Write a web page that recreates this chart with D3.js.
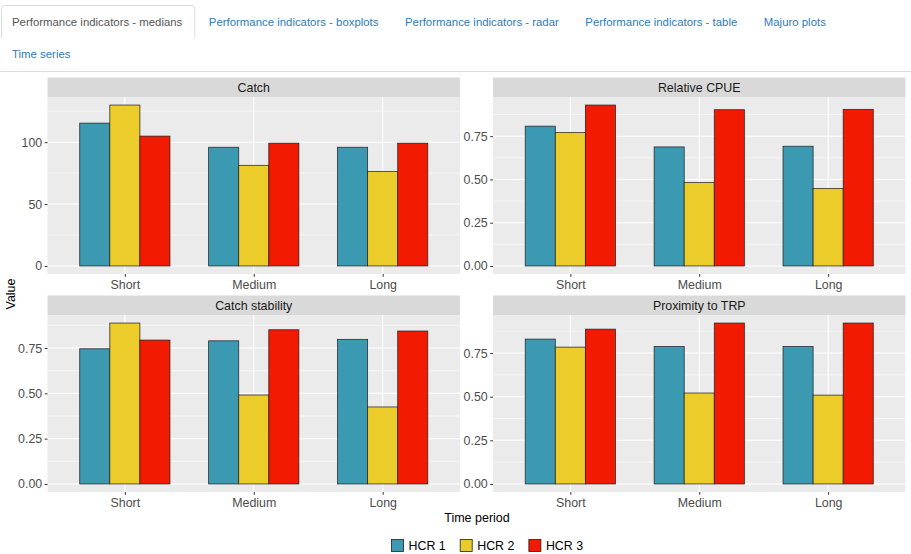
<!DOCTYPE html>
<html>
<head>
<meta charset="utf-8">
<script src="https://cdn.jsdelivr.net/npm/d3@7"></script>
<style>
  body { margin: 0; background: #fff; }
  svg { display: block; font-family: 'Liberation Sans', Arial, sans-serif; }
</style>
</head>
<body>
<svg width="911" height="554"></svg>
<script>
(function () {
    'use strict'

    // tabs along the top of the page
    const tabLabels = ['Performance indicators - medians', 'Performance indicators - boxplots',
        'Performance indicators - radar', 'Performance indicators - table', 'Majuro plots'];
    const tabLabels2 = ['Time series'];

    const periods = ['Short', 'Medium', 'Long'];
    const hcrs = ['HCR 1', 'HCR 2', 'HCR 3'];
    const hcrColours = ['#3B9AB2', '#EBCC2A', '#F21A00'];
    const indicators = ['Catch', 'Relative CPUE', 'Catch stability', 'Proximity to TRP'];

    // medians, rows = period (Short, Medium, Long), columns = HCR 1..3
    const catchValues = [[115.4, 130.0, 104.9], [95.9, 81.3, 99.2], [95.9, 76.4, 99.2]];
    const cpueValues = [[0.808, 0.771, 0.930], [0.688, 0.482, 0.903], [0.692, 0.448, 0.905]];
    const stabilityValues = [[0.746, 0.888, 0.794], [0.790, 0.491, 0.851], [0.798, 0.425, 0.844]];
    const proximityValues = [[0.830, 0.784, 0.887], [0.788, 0.521, 0.922], [0.788, 0.509, 0.922]];

    const catchTicks = [0, 50, 100];
    const catchTickLabels = ['0', '50', '100'];
    const ratioTicks = [0, 0.25, 0.5, 0.75];
    const ratioTickLabels = ['0.00', '0.25', '0.50', '0.75'];

    const facetValues = [catchValues, cpueValues, stabilityValues, proximityValues];
    const facetTicks = [catchTicks, ratioTicks, ratioTicks, ratioTicks];
    const facetTickLabels = [catchTickLabels, ratioTickLabels, ratioTickLabels, ratioTickLabels];

    let svg = d3.select('svg');

    // ---- tabs ----
    let tabs = svg.append('g').attr('font-size', '11.4px');
    tabs.append('line')
        .attr('x1', 0).attr('x2', 911).attr('y1', 71.5).attr('y2', 71.5)
        .attr('stroke', '#dddddd');

    let tx = 12;
    tabLabels.forEach(function (lab, i) {
        let t = tabs.append('text')
            .attr('x', tx).attr('y', 26)
            .attr('fill', i === 0 ? '#555555' : '#337ab7')
            .text(lab);
        let w = t.node().getComputedTextLength();
        if (i === 0) {
            tabs.insert('path', 'text')
                .attr('d', 'M1.5,38 V8.5 Q1.5,5.5 4.5,5.5 H' + (tx + w + 9.5) +
                    ' Q' + (tx + w + 12.5) + ',5.5 ' + (tx + w + 12.5) + ',8.5 V38')
                .attr('fill', '#fff')
                .attr('stroke', '#dddddd');
        }
        tx += w + 26.5;
    });
    tabLabels2.forEach(function (lab) {
        tabs.append('text')
            .attr('x', 12).attr('y', 58)
            .attr('fill', '#337ab7')
            .text(lab);
    });

    // ---- facets ----
    const colX = [47.5, 493];
    const panelW = 412.5;
    const stripTop = [77.5, 295.5];
    const stripH = 19.5;
    const panelH = 177;

    indicators.forEach(function (name, i) {
        let col = i % 2, row = Math.floor(i / 2);
        let px = colX[col], top = stripTop[row], pTop = top + stripH, pBot = pTop + panelH;
        let vals = facetValues[i], ticks = facetTicks[i], tickLabels = facetTickLabels[i];

        let vmax = d3.max(vals, r => d3.max(r));
        let y = d3.scaleLinear()
            .domain([-0.05 * vmax, 1.05 * vmax])
            .range([pBot, pTop]);

        let x = d3.scalePoint()
            .domain(periods)
            .range([px, px + panelW])
            .padding(0.6);
        let step = x.step();
        let x1 = d3.scaleBand()
            .domain(hcrs)
            .range([-0.35 * step, 0.35 * step]);

        let g = svg.append('g');

        // strip
        g.append('rect')
            .attr('x', px).attr('y', top).attr('width', panelW).attr('height', stripH)
            .attr('fill', '#d9d9d9');
        g.append('text')
            .attr('x', px + panelW / 2).attr('y', top + stripH / 2 + 4.3)
            .attr('text-anchor', 'middle')
            .attr('font-size', '12.4px')
            .attr('fill', '#1a1a1a')
            .text(name);

        // panel background
        g.append('rect')
            .attr('x', px).attr('y', pTop).attr('width', panelW).attr('height', panelH)
            .attr('fill', '#ebebeb');

        // minor grid
        let d = ticks[1] - ticks[0];
        let minors = [ticks[0] - d / 2].concat(ticks.map(t => t + d / 2))
            .filter(v => v > y.domain()[0] && v < y.domain()[1]);
        g.selectAll('line.minor')
            .data(minors)
            .enter()
            .append('line')
            .attr('x1', px).attr('x2', px + panelW)
            .attr('y1', v => y(v)).attr('y2', v => y(v))
            .attr('stroke', '#fff').attr('stroke-width', 0.55);

        // major grid
        g.selectAll('line.majory')
            .data(ticks)
            .enter()
            .append('line')
            .attr('x1', px).attr('x2', px + panelW)
            .attr('y1', v => y(v)).attr('y2', v => y(v))
            .attr('stroke', '#fff').attr('stroke-width', 1.1);
        g.selectAll('line.majorx')
            .data(periods)
            .enter()
            .append('line')
            .attr('x1', p => x(p)).attr('x2', p => x(p))
            .attr('y1', pTop).attr('y2', pBot)
            .attr('stroke', '#fff').attr('stroke-width', 1.1);

        // bars
        let groups = g.selectAll('g.period')
            .data(periods)
            .enter()
            .append('g')
            .attr('transform', p => 'translate(' + x(p) + ',0)');
        groups.selectAll('rect')
            .data((p, pi) => hcrs.map((h, hi) => ({ h: h, hi: hi, v: vals[pi][hi] })))
            .enter()
            .append('rect')
            .attr('x', d => x1(d.h))
            .attr('width', x1.bandwidth())
            .attr('y', d => y(d.v))
            .attr('height', d => y(0) - y(d.v))
            .attr('fill', d => hcrColours[d.hi])
            .attr('stroke', '#1f1f1f')
            .attr('stroke-opacity', 0.9)
            .attr('stroke-width', 0.8);

        // axes
        let ya = g.append('g')
            .attr('transform', 'translate(' + px + ',0)')
            .call(d3.axisLeft(y)
                .tickValues(ticks)
                .tickFormat((v, k) => tickLabels[k])
                .tickSize(2.8)
                .tickPadding(2.5));
        let xa = g.append('g')
            .attr('transform', 'translate(0,' + pBot + ')')
            .call(d3.axisBottom(x)
                .tickSize(2.8)
                .tickPadding(3.5));
        [ya, xa].forEach(function (a) {
            a.select('.domain').remove();
            a.selectAll('.tick line').attr('stroke', '#333333').attr('stroke-width', 1);
            a.selectAll('.tick text')
                .attr('fill', '#4d4d4d')
                .attr('font-size', '12.4px')
                .attr('font-family', "'Liberation Sans', Arial, sans-serif");
        });
    });

    // axis titles
    svg.append('text')
        .attr('x', 477).attr('y', 522)
        .attr('text-anchor', 'middle')
        .attr('font-size', '12.5px')
        .attr('fill', '#000')
        .text('Time period');
    svg.append('text')
        .attr('transform', 'translate(14.5,294) rotate(-90)')
        .attr('text-anchor', 'middle')
        .attr('font-size', '12.5px')
        .attr('fill', '#000')
        .text('Value');

    // legend
    let legend = svg.append('g');
    let items = legend.selectAll('g')
        .data(hcrs)
        .enter()
        .append('g');
    items.append('rect')
        .attr('width', 12).attr('height', 12)
        .attr('y', 539.5)
        .attr('fill', (d, i) => hcrColours[i])
        .attr('stroke', '#1f1f1f')
        .attr('stroke-width', 0.8);
    items.append('text')
        .attr('x', 17).attr('y', 550)
        .attr('font-size', '12.4px')
        .attr('fill', '#000')
        .text(d => d);
    let lx = 391.5;
    items.each(function () {
        let w = d3.select(this).select('text').node().getComputedTextLength();
        d3.select(this).attr('transform', 'translate(' + lx + ',0)');
        lx += 17 + w + 14.5;
    });
})();
</script>
</body>
</html>
